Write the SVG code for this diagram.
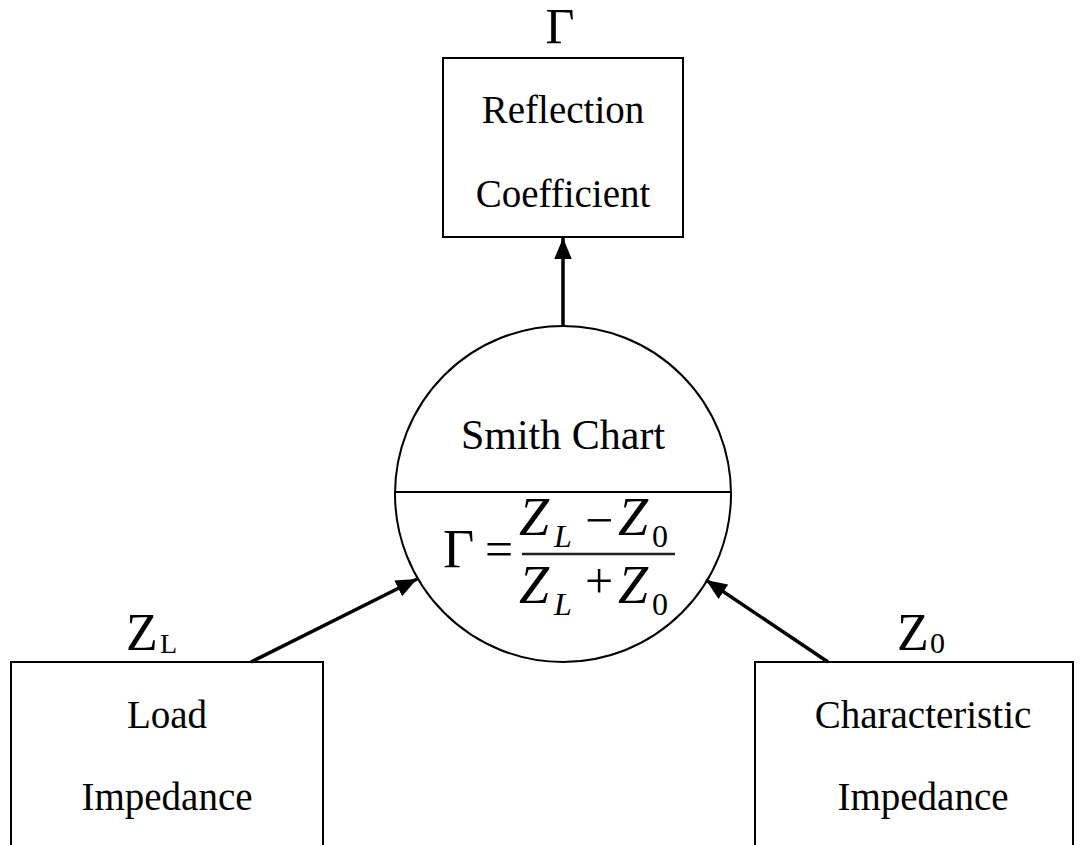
<svg xmlns="http://www.w3.org/2000/svg" width="1084" height="845" viewBox="0 0 1084 845">
<style>
.box{fill:#fff;stroke:#000;stroke-width:2}
.lbl{font-family:"Liberation Serif",serif;font-size:39px;fill:#000;text-anchor:middle}
.sym{font-family:"Liberation Serif",serif;fill:#000}
.it{font-style:italic}
.conn{stroke:#000;stroke-width:3.5;fill:none;marker-end:url(#ah)}
</style>
<defs>
<marker id="ah" markerWidth="6" markerHeight="5" refX="6" refY="2.5" orient="auto" markerUnits="strokeWidth">
<path d="M0,0 L6,2.5 L0,5 z" fill="#000"/>
</marker>
</defs>
<rect width="1084" height="845" fill="#fff"/>

<g id="reflection">
<text class="sym" x="560" y="43" font-size="50" text-anchor="middle">Γ</text>
<rect class="box" x="443" y="58" width="240" height="179"/>
<text class="lbl" x="563" y="123">Reflection</text>
<text class="lbl" x="563" y="207">Coefficient</text>
</g>

<g id="smith">
<circle cx="563" cy="494" r="168" fill="#fff" stroke="#000" stroke-width="2"/>
<line x1="395" y1="492" x2="731" y2="492" stroke="#000" stroke-width="2"/>
<text class="sym" x="563" y="449" font-size="42" text-anchor="middle">Smith Chart</text>
<text class="sym" x="443" y="567" font-size="54">Γ</text>
<text class="sym" x="485" y="566" font-size="50">=</text>
<text class="sym it" x="519" y="535" font-size="54">Z</text>
<text class="sym it" x="554" y="547" font-size="32">L</text>
<text class="sym" x="585" y="537" font-size="50">−</text>
<text class="sym it" x="618" y="535" font-size="54">Z</text>
<text class="sym" x="652" y="547" font-size="32">0</text>
<line x1="522" y1="554" x2="675" y2="554" stroke="#222" stroke-width="2.5"/>
<text class="sym it" x="519" y="603" font-size="54">Z</text>
<text class="sym it" x="554" y="615" font-size="32">L</text>
<text class="sym" x="585" y="598" font-size="50">+</text>
<text class="sym it" x="618" y="603" font-size="54">Z</text>
<text class="sym" x="652" y="615" font-size="32">0</text>
</g>

<g id="load">
<text class="sym" x="126" y="650" font-size="52">Z</text>
<text class="sym" x="160" y="653" font-size="28">L</text>
<rect class="box" x="11" y="662" width="312" height="200"/>
<text class="lbl" x="167" y="728">Load</text>
<text class="lbl" x="167" y="810">Impedance</text>
</g>

<g id="characteristic">
<text class="sym" x="897" y="650" font-size="52">Z</text>
<text class="sym" x="930" y="653" font-size="30">0</text>
<rect class="box" x="755" y="662" width="318" height="200"/>
<text class="lbl" x="923" y="728">Characteristic</text>
<text class="lbl" x="923" y="810">Impedance</text>
</g>

<g id="connectors">
<line class="conn" x1="563" y1="326" x2="563" y2="238"/>
<line class="conn" x1="251" y1="662" x2="417" y2="579"/>
<line class="conn" x1="828" y1="662" x2="706" y2="580"/>
</g>
</svg>
